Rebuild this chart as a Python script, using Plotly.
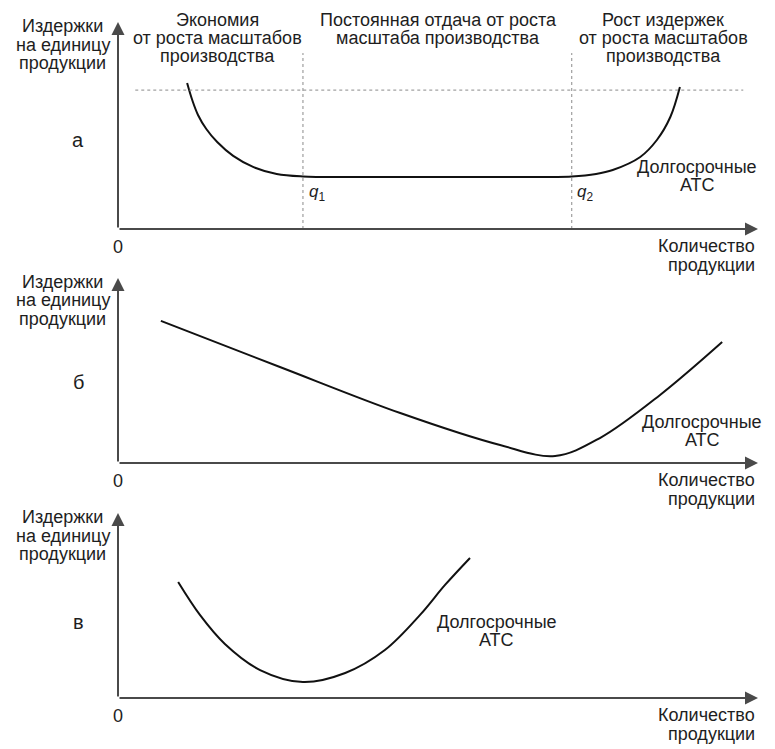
import plotly.graph_objects as go

W, H = 775, 749

# ---- Data (conceptual units: quantity 0-100, cost per unit 0-100) ----
# Panel а
a_q = [10.8, 11.6, 12.5, 13.8, 15.5, 18.0, 21.1, 24.8, 28.9, 36.2, 50.3, 62.8, 70.9, 74.7, 77.3, 81.6, 84.2, 86.3, 87.8]
a_c = [70.5, 62.3, 55.1, 48.3, 42.0, 35.3, 30.0, 26.6, 25.4, 25.1, 25.1, 25.1, 25.4, 26.6, 28.5, 34.8, 43.0, 54.1, 68.6]
q1, q2 = 28.9, 70.9
ref_level = 67.1
ref_span = [2.7, 97.7]
q_top = 85.0

# Panel б
b_q = [6.7, 25.3, 44.1, 59.7, 68.3, 75.3, 84.7, 94.4]
b_c = [76.8, 51.9, 27.0, 9.7, 3.8, 13.5, 36.8, 65.4]

# Panel в
c_q = [9.4, 12.8, 16.7, 22.2, 28.9, 35.5, 41.7, 47.2, 51.1, 55.0]
c_c = [62.7, 44.9, 29.2, 15.1, 8.6, 13.5, 25.9, 44.9, 61.1, 75.7]

panel_letters = ["а", "б", "в"]
y_label = ["Издержки", "на единицу", "продукции"]
x_label = ["Количество", "продукции"]
curve_label = ["Долгосрочные", "АТС"]
headers = [
    ["Экономия", "от роста масштабов", "производства"],
    ["Постоянная отдача от роста", "масштаба производства"],
    ["Рост издержек", "от роста масштабов", "производства"],
]

FONT = "Liberation Sans, Arimo, Arial, sans-serif"
FS = 18
TXT = "#1e1e1e"
AXC = "#4a4a4a"

# panel pixel geometry: (origin_y, tip_y)
x_org, x_tip = 118, 758
panels = [(229, 22), (463, 278), (698, 513)]

fig = go.Figure()

curves = [(a_q, a_c), (b_q, b_c), (c_q, c_c)]
for i, (qq, cc) in enumerate(curves):
    sfx = "" if i == 0 else str(i + 1)
    fig.add_trace(go.Scatter(x=qq, y=cc, mode="lines",
                             line=dict(color="#111111", width=2, shape="spline", smoothing=1.0),
                             xaxis="x" + sfx, yaxis="y" + sfx, hoverinfo="skip", showlegend=False))

layout = dict(width=W, height=H, margin=dict(l=0, r=0, t=0, b=0),
              paper_bgcolor="white", plot_bgcolor="rgba(0,0,0,0)", showlegend=False)
for i, (oy, ty) in enumerate(panels):
    sfx = "" if i == 0 else str(i + 1)
    layout["xaxis" + sfx] = dict(domain=[x_org / W, x_tip / W], range=[0, 100], visible=False,
                                 anchor="y" + sfx, fixedrange=True)
    layout["yaxis" + sfx] = dict(domain=[1 - oy / H, 1 - ty / H], range=[0, 100], visible=False,
                                 anchor="x" + sfx, fixedrange=True)
fig.update_layout(**layout)

ann = []
shapes = []


def txt(px, py, s, xanchor="center", size=FS):
    ann.append(dict(xref="paper", yref="paper", x=px / W, y=1 - py / H, text=s, showarrow=False,
                    xanchor=xanchor, yanchor="middle", font=dict(family=FONT, size=size, color=TXT)))


for i, (oy, ty) in enumerate(panels):
    sfx = "" if i == 0 else str(i + 1)
    xr, yr = "x" + sfx, "y" + sfx
    # axes with arrows
    ann.append(dict(xref=xr, yref=yr, axref=xr, ayref=yr, x=100, y=0, ax=0, ay=0, text="",
                    showarrow=True, arrowhead=2, arrowsize=1.3, arrowwidth=2, arrowcolor=AXC))
    ann.append(dict(xref=xr, yref=yr, axref=xr, ayref=yr, x=0, y=100, ax=0, ay=0, text="",
                    showarrow=True, arrowhead=2, arrowsize=1.3, arrowwidth=2, arrowcolor=AXC))
    # y label
    for k, s in enumerate(y_label):
        txt(63, ty + 4 + 18.5 * k, s)
    # panel letter
    txt(78, [140, 382, 622][i], panel_letters[i], size=20)
    # zero
    txt(118, oy + 18, "0")
    # x label
    for k, s in enumerate(x_label):
        txt(757, oy + 17 + 18.5 * k, s, xanchor="right")

# curve labels
for (cx, cy) in [(697, 167), (702, 422), (497, 622)]:
    for k, s in enumerate(curve_label):
        txt(cx, cy + 17.5 * k, s)

# headers of panel а
for hx, lines in zip([217, 438, 663], headers):
    for k, s in enumerate(lines):
        txt(hx, 20 + 18 * k, s)

# q labels
txt(307, 193, "<i>q</i><sub>1</sub>", xanchor="left", size=17)
txt(575, 193, "<i>q</i><sub>2</sub>", xanchor="left", size=17)

# dashed reference lines in panel а
shapes.append(dict(type="line", xref="x", yref="y", x0=ref_span[0], x1=ref_span[1], y0=ref_level,
                   y1=ref_level, line=dict(color="#8a8a8a", width=1, dash="3px,3px")))
for qv in (q1, q2):
    shapes.append(dict(type="line", xref="x", yref="y", x0=qv, x1=qv, y0=0, y1=q_top,
                       line=dict(color="#8a8a8a", width=1, dash="3px,3px")))

fig.update_layout(annotations=ann, shapes=shapes)
fig.write_html("out.html")
